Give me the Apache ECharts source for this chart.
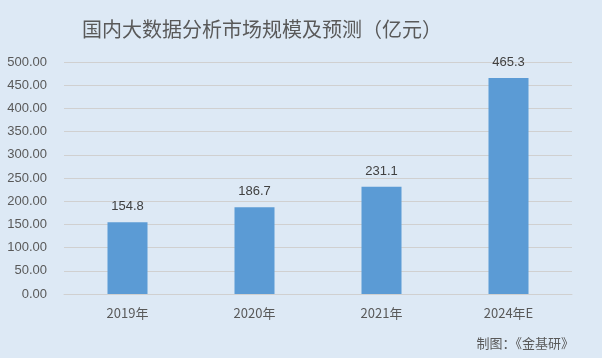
<!DOCTYPE html>
<html><head><meta charset="utf-8">
<script src="https://cdn.jsdelivr.net/npm/echarts@6/dist/echarts.min.js"></script>
<style>html,body{margin:0;padding:0;background:#dde9f5;}#c{width:602px;height:358px;}</style>
</head><body><div id="c"></div>
<script>
const categories = ['2019年','2020年','2021年','2024年E'];
const values = [154.8, 186.7, 231.1, 465.3];
const titleText = '国内大数据分析市场规模及预测（亿元）';
const sourceText = '制图：《金基研》';
const chart = echarts.init(document.getElementById('c'));
chart.setOption({
  backgroundColor: '#dde9f5',
  animation: false,
  title: {
    text: titleText, left: 257, top: 14, textAlign: 'center',
    textStyle: {fontFamily: 'Noto Sans CJK SC', fontSize: 20, fontWeight: 'normal', color: '#595959'}
  },
  graphic: [{
    type: 'text', right: 28, top: 337,
    style: {text: sourceText, fontFamily: 'Noto Sans CJK SC', fontSize: 13, fill: '#595959'}
  }],
  grid: {left: 64, right: 30, top: 62, bottom: 64},
  xAxis: {
    type: 'category', data: categories,
    axisLine: {lineStyle: {color: '#d0d0d0'}},
    axisTick: {show: false},
    axisLabel: {color: '#595959', fontSize: 13, margin: 13, fontFamily: 'Noto Sans CJK SC'}
  },
  yAxis: {
    type: 'value', min: 0, max: 500, interval: 50,
    axisLabel: {formatter: v => v.toFixed(2), color: '#595959', fontSize: 13, margin: 17, fontFamily: 'Liberation Sans'},
    splitLine: {lineStyle: {color: '#d0d0d0'}},
    axisLine: {show: false}, axisTick: {show: false}
  },
  series: [{
    type: 'bar', data: values, barWidth: 40,
    itemStyle: {color: '#5b9bd5'},
    label: {show: true, position: 'top', distance: 9, color: '#404040', fontSize: 13, fontFamily: 'Liberation Sans', formatter: p => p.value.toFixed(1)}
  }]
});
</script></body></html>
